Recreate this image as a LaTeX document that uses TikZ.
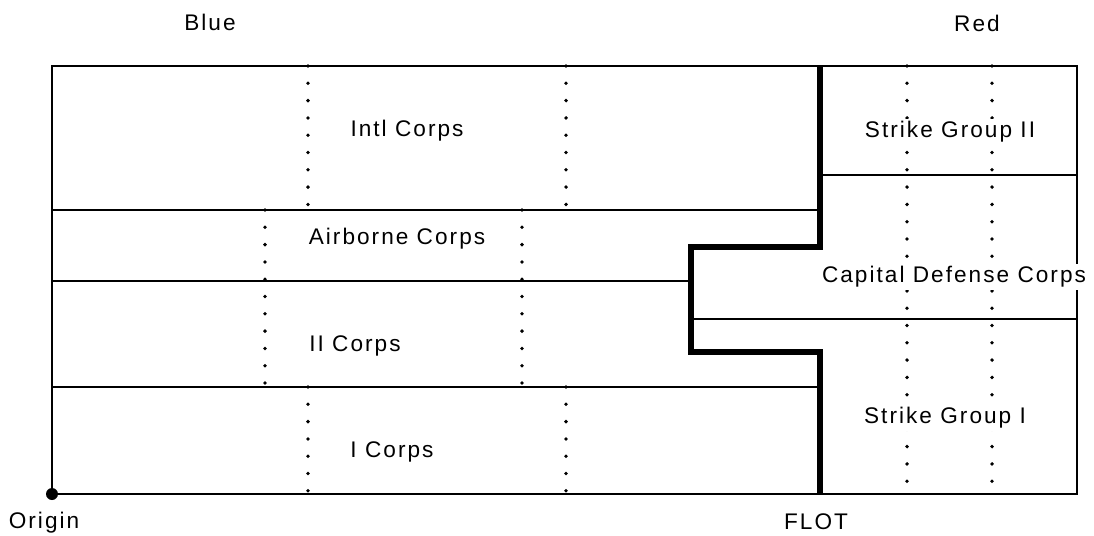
\documentclass[tikz,border=0pt]{standalone}
\usepackage{fontspec}
\newfontfamily\spaced[LetterSpace=9]{Liberation Sans}

\begin{document}
\begin{tikzpicture}[x=0.5pt, y=-0.5pt,
      every node/.style = {font=\spaced\fontsize{11.3}{13}\selectfont,
        inner sep=1pt},
      sector/.style = {line width=1.2pt},
      frontline/.style = {line width=3pt, line join=miter},
      phase/.style = {line width=1.9pt, line cap=round,
        dash pattern=on 0pt off 8.65pt},
      zone/.style = {fill=white}]
      \useasboundingbox (0,0) rectangle (1094,536);
      % sector boundaries
      \draw[sector] (52,494) -- (52,66) -- (1077,66) -- (1077,494) -- cycle;
      \draw[sector] (52,210) -- (820,210);
      \draw[sector] (52,281) -- (691,281);
      \draw[sector] (52,387) -- (820,387);
      \draw[sector] (820,175) -- (1077,175);
      \draw[sector] (691,319) -- (1077,319);
      % phase lines
      \foreach \x/\ya/\yb in {308/66/210, 566/66/210, 265/210/387, 522/210/387,
          308/387/494, 566/387/494, 907/66/494, 992/66/494}
        \draw[phase] (\x,\ya) -- (\x,\yb);
      % front line
      \draw[frontline] (820,66) -- (820,247) -- (691,247) -- (691,352)
        -- (820,352) -- (820,494);
      \node[circle, fill, inner sep=0pt, minimum size=6pt] (origin) at (52,494) {};
      % labels
      \node (blue) at (210,22) {Blue};
      \node (red) at (977,23) {Red};
      \node[zone] (intl) at (407,131) {Intl Corps};
      \node[zone] (airborne) at (397,239) {Airborne Corps};
      \node[zone] (corps2) at (355,346) {II Corps};
      \node[zone] (corps1) at (392,452) {I Corps};
      \node[zone] (strike2) at (950,132) {Strike Group II};
      \node[zone] (capital) at (954,277) {Capital Defense Corps};
      \node[zone] (strike1) at (945,418) {Strike Group I};
      \node (originlabel) at (44,523) {Origin};
      \node (flot) at (816,522) {FLOT};
\end{tikzpicture}
\end{document}
